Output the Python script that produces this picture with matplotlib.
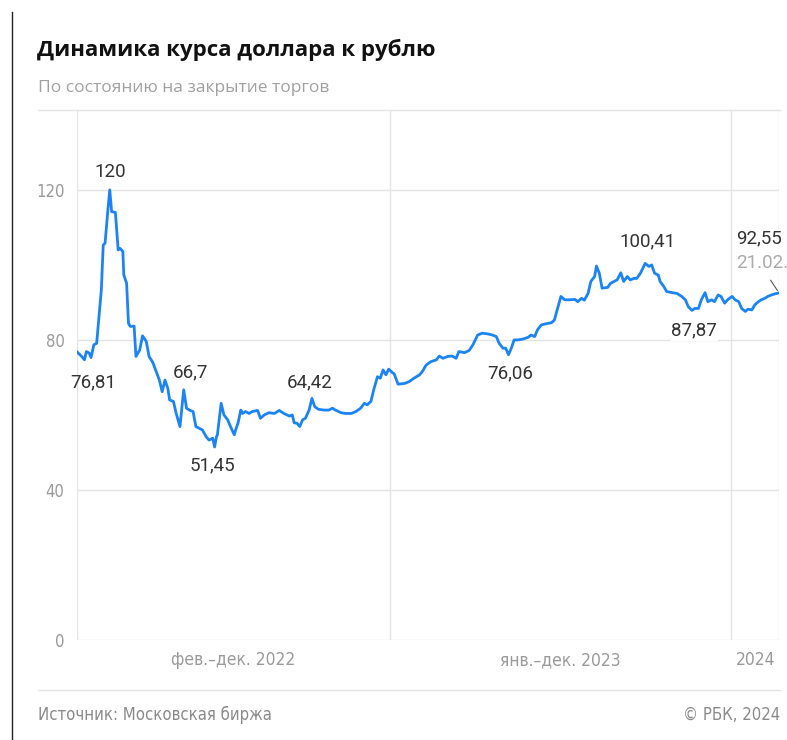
import matplotlib.pyplot as plt
import matplotlib.dates as mdates
import pandas as pd

# --- данные: курс доллара к рублю (по закрытию торгов) ---
dates = [
    "2022-02-01", "2022-02-06", "2022-02-09", "2022-02-11", "2022-02-14", "2022-02-16",
    "2022-02-19", "2022-02-22", "2022-02-24", "2022-02-27", "2022-03-01", "2022-03-03",
    "2022-03-06", "2022-03-08", "2022-03-10", "2022-03-14", "2022-03-17", "2022-03-19",
    "2022-03-22", "2022-03-23", "2022-03-26", "2022-03-28", "2022-03-30", "2022-04-03",
    "2022-04-05", "2022-04-09", "2022-04-12", "2022-04-16", "2022-04-19", "2022-04-23",
    "2022-04-26", "2022-04-30", "2022-05-03", "2022-05-06", "2022-05-09", "2022-05-11",
    "2022-05-15", "2022-05-18", "2022-05-22", "2022-05-26", "2022-05-29", "2022-06-01",
    "2022-06-05", "2022-06-08", "2022-06-12", "2022-06-15", "2022-06-19", "2022-06-22",
    "2022-06-26", "2022-06-28", "2022-06-30", "2022-07-01", "2022-07-05", "2022-07-08",
    "2022-07-12", "2022-07-15", "2022-07-19", "2022-07-21", "2022-07-23", "2022-07-26",
    "2022-07-28", "2022-07-31", "2022-08-04", "2022-08-07", "2022-08-13", "2022-08-16",
    "2022-08-20", "2022-08-25", "2022-08-31", "2022-09-05", "2022-09-10", "2022-09-16",
    "2022-09-19", "2022-09-21", "2022-09-24", "2022-09-27", "2022-09-30", "2022-10-03",
    "2022-10-07", "2022-10-10", "2022-10-13", "2022-10-17", "2022-10-23", "2022-10-28",
    "2022-11-01", "2022-11-04", "2022-11-10", "2022-11-15", "2022-11-21", "2022-11-26",
    "2022-12-01", "2022-12-05", "2022-12-08", "2022-12-12", "2022-12-15", "2022-12-19",
    "2022-12-22", "2022-12-25", "2022-12-28", "2022-12-31", "2023-01-03", "2023-01-06",
    "2023-01-10", "2023-01-17", "2023-01-22", "2023-01-27", "2023-02-02", "2023-02-05",
    "2023-02-09", "2023-02-14", "2023-02-20", "2023-02-23", "2023-02-27", "2023-03-04",
    "2023-03-09", "2023-03-13", "2023-03-16", "2023-03-22", "2023-03-27", "2023-03-31",
    "2023-04-05", "2023-04-10", "2023-04-16", "2023-04-21", "2023-04-25", "2023-04-28",
    "2023-05-02", "2023-05-05", "2023-05-08", "2023-05-11", "2023-05-14", "2023-05-18",
    "2023-05-23", "2023-05-29", "2023-06-01", "2023-06-05", "2023-06-08", "2023-06-12",
    "2023-06-17", "2023-06-23", "2023-06-26", "2023-06-30", "2023-07-03", "2023-07-07",
    "2023-07-12", "2023-07-18", "2023-07-21", "2023-07-25", "2023-07-28", "2023-08-01",
    "2023-08-04", "2023-08-08", "2023-08-10", "2023-08-13", "2023-08-16", "2023-08-22",
    "2023-08-25", "2023-08-29", "2023-09-01", "2023-09-05", "2023-09-08", "2023-09-12",
    "2023-09-15", "2023-09-19", "2023-09-22", "2023-09-26", "2023-10-01", "2023-10-05",
    "2023-10-08", "2023-10-11", "2023-10-15", "2023-10-17", "2023-10-21", "2023-10-24",
    "2023-10-30", "2023-11-04", "2023-11-09", "2023-11-13", "2023-11-16", "2023-11-20",
    "2023-11-23", "2023-11-27", "2023-11-30", "2023-12-04", "2023-12-07", "2023-12-11",
    "2023-12-14", "2023-12-18", "2023-12-21", "2023-12-25", "2023-12-28", "2024-01-02",
    "2024-01-05", "2024-01-09", "2024-01-12", "2024-01-16", "2024-01-19", "2024-01-23",
    "2024-01-26", "2024-01-30", "2024-02-02", "2024-02-06", "2024-02-09", "2024-02-13",
    "2024-02-17", "2024-02-21",
]
usd_rub = [
    76.81, 75.6, 74.7, 76.9, 76.5, 75.3,
    78.7, 79.1, 84.9, 93.3, 105.3, 105.8,
    114.7, 120.0, 114.2, 114.0, 104.0, 104.4,
    103.6, 97.3, 95.1, 84.4, 83.6, 83.7,
    75.6, 77.3, 81.1, 79.6, 75.6, 74.0,
    72.0, 69.3, 66.2, 69.3, 67.1, 64.0,
    63.6, 60.4, 56.9, 66.7, 61.8, 61.3,
    60.9, 56.9, 56.4, 56.0, 54.2, 53.3,
    53.8, 51.45, 54.2, 54.7, 63.1, 60.0,
    58.7, 56.9, 54.7, 56.4, 57.8, 61.3,
    60.4, 60.9, 60.4, 60.9, 61.2, 59.1,
    60.0, 60.6, 60.4, 61.2, 60.4, 59.7,
    60.0, 57.9, 57.8, 56.9, 58.7, 59.1,
    61.3, 64.42, 62.2, 61.5, 61.3, 61.3,
    61.8, 61.3, 60.6, 60.4, 60.4, 60.9,
    61.8, 63.1, 62.7, 63.6, 66.7, 70.2,
    69.8, 72.0, 70.7, 72.2, 71.5, 70.9,
    68.2, 68.4, 68.9, 69.8, 70.7, 71.6,
    73.3, 74.2, 74.7, 75.7, 75.1, 75.6,
    75.7, 75.1, 76.9, 76.6, 77.2, 78.7,
    81.3, 81.8, 81.6, 81.3, 80.9, 79.1,
    77.8, 77.8, 76.06, 77.8, 80.0, 80.0,
    80.2, 80.7, 81.3, 80.9, 82.7, 84.0,
    84.3, 84.6, 85.3, 88.9, 91.6, 90.7,
    90.7, 90.8, 90.2, 91.1, 90.6, 92.4,
    95.6, 96.9, 99.7, 97.8, 93.8, 94.0,
    95.1, 95.6, 96.0, 97.9, 95.6, 96.9,
    96.0, 96.4, 96.4, 97.8, 100.41, 99.6,
    100.0, 97.8, 97.3, 95.6, 94.2, 92.9,
    92.6, 92.4, 91.6, 90.7, 88.9, 87.87,
    88.4, 88.4, 90.7, 92.6, 90.2, 90.7,
    90.2, 92.0, 91.6, 89.8, 90.7, 91.6,
    90.7, 90.2, 88.4, 87.6, 88.2, 88.0,
    89.3, 90.2, 90.7, 91.1, 91.6, 92.0,
    92.3, 92.55,
]

# подписи экстремумов: дата, текст, смещение подписи в пикселях
notes_dates = ["2022-02-01", "2022-03-08", "2022-05-26", "2022-06-28", "2022-10-10",
               "2023-05-08", "2023-10-01", "2023-11-20"]
notes_text = ["76,81", "120", "66,7", "51,45", "64,42", "76,06", "100,41", "87,87"]
notes_offset = [(16, -30), (0, 18), (7, 17), (-2, -18), (-2, 16), (2, -19), (2, 22), (2, -20)]

period_bounds = ["2022-02-01", "2023-01-01", "2024-01-01", "2024-02-21"]
period_labels = ["фев.–дек. 2022", "янв.–дек. 2023", "2024"]

yticks = [0, 40, 80, 120]

BLUE = "#1a84f6"
GRID = "#e4e4e4"
TICK = "#9a9a9a"
COND = dict(family="DejaVu Sans", fontstretch="condensed")

x = pd.to_datetime(dates)
bounds = pd.to_datetime(period_bounds)

W, H = 787, 740
fig = plt.figure(figsize=(W / 100, H / 100), dpi=100)
ax = fig.add_axes([77 / W, 1 - 640 / H, (779 - 77) / W, (640 - 110) / H])

ax.plot(x, usd_rub, color=BLUE, lw=2.0, solid_joinstyle="round", zorder=3)

ax.set_xlim(bounds[0], bounds[-1])
ax.set_ylim(0, 141.3)

# сетка
for t in yticks:
    ax.axhline(t, color=GRID, lw=1, zorder=1)
for b in bounds:
    ax.axvline(b, color=GRID, lw=1, zorder=1)
for s in ax.spines.values():
    s.set_visible(False)

ax.set_yticks(yticks)
ax.set_yticklabels([str(t) for t in yticks], fontsize=12, color=TICK, **COND)
ax.tick_params(axis="y", length=0, pad=9)

mids = [bounds[i] + (bounds[i + 1] - bounds[i]) / 2 for i in range(len(bounds) - 1)]
ax.set_xticks(mids)
ax.set_xticklabels(period_labels, fontsize=12.5, color=TICK, **COND)
ax.tick_params(axis="x", length=0, pad=8)

# подписи значений
for d, txt, off in zip(notes_dates, notes_text, notes_offset):
    xd = pd.Timestamp(d)
    yv = usd_rub[dates.index(d)]
    kw = {}
    if txt == "87,87":
        kw["bbox"] = dict(facecolor="white", edgecolor="none", pad=1)
    ax.annotate(txt, (xd, yv), xytext=off, textcoords="offset pixels",
                ha="center", va="center", fontsize=13.5, color="#333333",
                family="Roboto", zorder=4, **kw)

# последнее значение
xl, yl = x[-1], usd_rub[-1]
ax.annotate("", (xl, yl), xytext=(-10, 15), textcoords="offset pixels",
            arrowprops=dict(arrowstyle="-", color="#555555", lw=0.8))
ax.annotate("92,55", (xl, yl), xytext=(-43, 54), textcoords="offset pixels",
            ha="left", va="center", fontsize=13.5, color="#333333", family="Roboto",
            annotation_clip=False)
ax.annotate("21.02.", (xl, yl), xytext=(-43, 30), textcoords="offset pixels",
            ha="left", va="center", fontsize=13.5, color="#aaaaaa", family="Roboto",
            annotation_clip=False)

# заголовки
fig.text(37 / W, 1 - 50 / H, "Динамика курса доллара к рублю", fontsize=16,
         fontweight="bold", family="Open Sans", color="#111111", va="center")
fig.text(38 / W, 1 - 88 / H, "По состоянию на закрытие торгов", fontsize=12.5,
         family="Open Sans", color="#a0a0a0", va="center")

# линии оформления
fig.add_artist(plt.Line2D([38 / W, 780 / W], [1 - 110 / H] * 2, color=GRID, lw=1))
fig.add_artist(plt.Line2D([38 / W, 780 / W], [1 - 690 / H] * 2, color=GRID, lw=1))
fig.add_artist(plt.Line2D([12 / W, 12 / W], [0, 1 - 12 / H], color="#222222", lw=1))

# подвал
fig.text(38 / W, 1 - 715 / H, "Источник: Московская биржа", fontsize=12,
         color="#8a8a8a", va="center", **COND)
fig.text(780 / W, 1 - 715 / H, "© РБК, 2024", fontsize=12,
         color="#8a8a8a", va="center", ha="right", **COND)

fig.savefig("out.png", dpi=100)
